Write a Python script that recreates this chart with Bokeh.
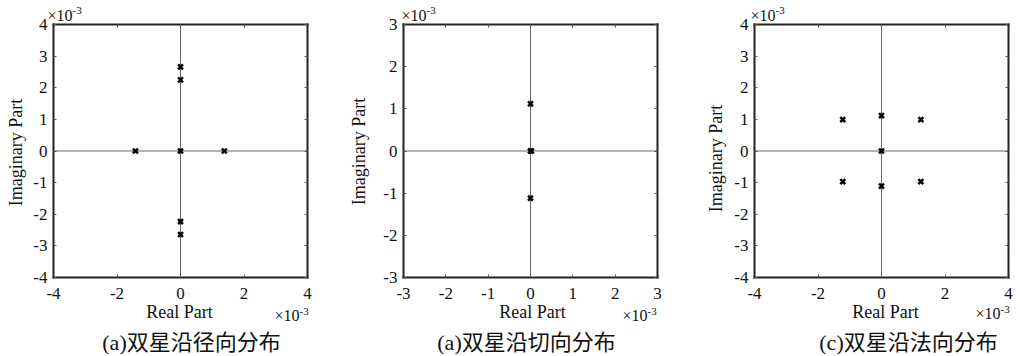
import math
from bokeh.plotting import figure
from bokeh.models import Label, LinearAxis, FixedTicker, Range1d, CustomJSTickFormatter
from bokeh.layouts import row
from bokeh.embed import file_html
from bokeh.resources import INLINE

# ---- data (values in units of 1e-3) ----
radial_real = [0, 0, 0, 0, 0, -1.42, 1.38]
radial_imag = [2.66, 2.25, 0, -2.23, -2.64, 0, 0]
tangential_real = [0, 0, 0.02, 0]
tangential_imag = [1.12, 0, 0, -1.12]
normal_real = [-1.22, 0, 1.24, 0, -1.22, 0, 1.24]
normal_imag = [0.99, 1.12, 0.99, 0, -0.97, -1.11, -0.97]

ticks_x_a = [-4, -2, 0, 2, 4]
ticks_y_a = [-4, -3, -2, -1, 0, 1, 2, 3, 4]
ticks_b = [-3, -2, -1, 0, 1, 2, 3]
ticks_x_c = [-4, -2, 0, 2, 4]
ticks_y_c = [-4, -3, -2, -1, 0, 1, 2, 3, 4]

captions = ["(a)双星沿径向分布", "(a)双星沿切向分布", "(c)双星沿法向分布"]
x_title = "Real Part"
y_title = "Imaginary Part"
sci = ("×10", "-3")

H = 354
BOX_W, BOX_H, BOX_T = 254, 253, 24
SERIF = "'Liberation Serif', 'Times New Roman', serif"
CAP_FONT = "'Liberation Serif', 'Noto Sans CJK SC'"
INK = "#111111"


def panel(xs, ys, xt, yt, caption, W, L, pos):
    ux = (xt[-1] - xt[0]) / BOX_W
    uy = (yt[-1] - yt[0]) / BOX_H
    xr = Range1d(xt[0] - L * ux, xt[-1] + (W - L - BOX_W) * ux)
    yr = Range1d(yt[0] - (H - BOX_T - BOX_H) * uy, yt[-1] + BOX_T * uy)
    p = figure(width=W, height=H, output_backend="svg", toolbar_location=None, title=None,
               min_border=0, min_border_left=0, min_border_right=0,
               min_border_top=0, min_border_bottom=0, x_range=xr, y_range=yr)
    p.background_fill_color = "white"
    p.border_fill_color = "white"
    p.outline_line_color = None
    p.grid.visible = False

    fmt = CustomJSTickFormatter(code="return String(tick);")
    xa, ya = p.xaxis[0], p.yaxis[0]
    xa.fixed_location = yt[0]
    ya.fixed_location = xt[0]
    extra_r = LinearAxis(fixed_location=xt[-1])
    extra_t = LinearAxis(fixed_location=yt[-1])
    p.add_layout(extra_r, "right")
    p.add_layout(extra_t, "above")
    for ax, tk, bnd in ((xa, xt, (xt[0], xt[-1])), (ya, yt, (yt[0], yt[-1])),
                        (extra_r, yt, (yt[0], yt[-1])), (extra_t, xt, (xt[0], xt[-1]))):
        ax.ticker = FixedTicker(ticks=tk)
        ax.formatter = fmt
        ax.bounds = bnd
        ax.axis_line_color = "#222222"
        ax.axis_line_width = 2
        ax.axis_line_cap = "square"
        ax.major_tick_in = 3
        ax.major_tick_out = 0
        ax.major_tick_line_color = "#555555"
        ax.minor_tick_line_color = None
        ax.major_label_text_font = SERIF
        ax.major_label_text_font_size = "17px"
        ax.major_label_text_color = INK
    xa.major_label_standoff = 10
    ya.major_label_standoff = 6
    extra_r.major_label_text_color = None
    extra_t.major_label_text_color = None

    # zero lines across the box
    p.segment(x0=[xt[0], 0], y0=[0, yt[0]], x1=[xt[-1], 0], y1=[0, yt[-1]],
              line_color="#666666", line_width=1)
    # poles
    p.scatter(xs, ys, marker="x", size=7, line_width=2.5, line_color="black")

    def lab(text, x, y, size, align="left", baseline="alphabetic", angle=0, font=SERIF, style="normal"):
        p.add_layout(Label(x=x, y=H - y, x_units="screen", y_units="screen", text=text,
                           text_font=font, text_font_size=size, text_align=align,
                           text_baseline=baseline, angle=angle, text_color=INK,
                           text_font_style=style))

    lab(sci[0], pos["top"], 15, "16px")
    lab(sci[1], pos["top"] + 25, 10, "11px")
    lab(sci[0], pos["br"], pos["bry"], "16px")
    lab(sci[1], pos["br"] + 25, pos["bry"] - 4, "11px")
    lab(x_title, pos["xl"], 311, "18px", align="center", baseline="middle")
    lab(y_title, pos["yl"], pos["yly"], "18px", align="center", baseline="middle", angle=math.pi / 2)
    lab(caption, pos["cap"], 342, "22px", align="center", baseline="middle", font=CAP_FONT)
    return p


p1 = panel(radial_real, radial_imag, ticks_x_a, ticks_y_a, captions[0], 343, 53,
           dict(top=47, br=274, bry=315, xl=179, yl=15, yly=152, cap=191))
p2 = panel(tangential_real, tangential_imag, ticks_b, ticks_b, captions[1], 350, 60,
           dict(top=58, br=279, bry=315, xl=189, yl=15, yly=151, cap=183))
p3 = panel(normal_real, normal_imag, ticks_x_c, ticks_y_c, captions[2], 325, 61,
           dict(top=57, br=282, bry=313, xl=192, yl=22, yly=158, cap=215))

layout = row(p1, p2, p3, spacing=0)
open("out.html", "w").write(file_html(layout, INLINE))
